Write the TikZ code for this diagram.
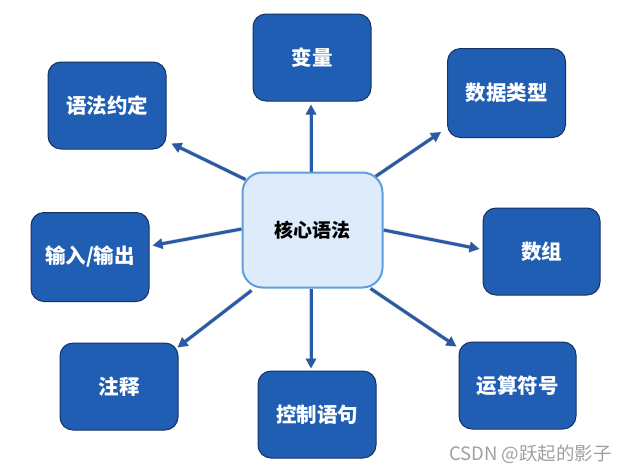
\documentclass[tikz,border=0pt]{standalone}
\usepackage{fontspec}
\newfontfamily\cjk{Noto Sans CJK SC}
\usetikzlibrary{arrows.meta,calc,backgrounds}
\definecolor{outerfill}{RGB}{31,94,178}
\definecolor{outerline}{RGB}{22,50,98}
\definecolor{corefill}{RGB}{221,235,250}
\definecolor{coreline}{RGB}{95,158,218}
\definecolor{arrowcol}{RGB}{40,90,165}
\definecolor{wmark}{RGB}{160,160,160}
\tikzset{
  outerbox/.style={draw=outerline, line width=1pt, fill=outerfill, rounded corners=13pt,
    minimum width=118pt, minimum height=87pt, text=white, font=\cjk\bfseries\fontsize{20.5}{24}\selectfont, inner sep=0pt},
  corebox/.style={draw=coreline, line width=2pt, fill=corefill, rounded corners=20pt,
    minimum width=140pt, minimum height=115pt, text=black, font=\cjk\bfseries\fontsize{19}{22}\selectfont, inner sep=0pt},
  arr/.style={draw=arrowcol, line width=3pt, -{Triangle[length=10pt,width=10pt]}},
  arrshadow/.style={draw=black, opacity=0.18, line width=4pt, -{Triangle[length=10pt,width=11pt]}, shift={(1.5pt,-2.5pt)}},
}
\newcommand\myarrow[2]{\draw[arrshadow] (#1) -- (#2); \draw[arr] (#1) -- (#2);}
\begin{document}
\begin{tikzpicture}[x=1pt,y=-1pt]
\useasboundingbox (0,0) rectangle (631,472);
\node[corebox] (c) at (312.5,230) {核心语法};
\node[outerbox] (v) at (312,57.5) {变量};
\node[outerbox, minimum height=89pt] (dt) at (506.5,93) {数据类型};
\node[outerbox] (yf) at (107,105.5) {语法约定};
\node[outerbox, minimum height=89pt] (io) at (90,257) {输入/输出};
\node[outerbox, minimum width=117pt] (sz) at (541.5,251.5) {数组};
\node[outerbox] (zs) at (119,386.5) {注释};
\node[outerbox] (kz) at (317,414.5) {控制语句};
\node[outerbox, minimum width=117pt] (ys) at (517.5,385.5) {运算符号};
\begin{scope}[on background layer]
  \fill[white] (0,0) rectangle (631,472);
  \myarrow{$(c.north)+(-1.5,0)$}{$(v.south)+(-1,3)$}
  \myarrow{$(c.north east)+(-8,5)$}{$(dt.south west)+(-6,-6)$}
  \myarrow{$(c.north west)+(4,8)$}{$(yf.south east)+(5,-6)$}
  \myarrow{$(c.west)+(0,-1)$}{$(io.east)+(3,-11.5)$}
  \myarrow{c.east}{$(sz.west)+(-3,-2.5)$}
  \myarrow{$(c.south west)+(10,2)$}{$(zs.north east)+(-1,5)$}
  \myarrow{$(c.south)+(-1.5,0)$}{$(kz.north)+(-6,-2)$}
  \myarrow{$(c.south east)+(-13,0)$}{$(ys.north west)+(-2,5)$}
\end{scope}
\node[anchor=west, text=wmark, font=\cjk\fontsize{18.5}{21}\selectfont, inner sep=0pt] (wm) at (449,454) {CSDN @跃起的影子};
\end{tikzpicture}
\end{document}
